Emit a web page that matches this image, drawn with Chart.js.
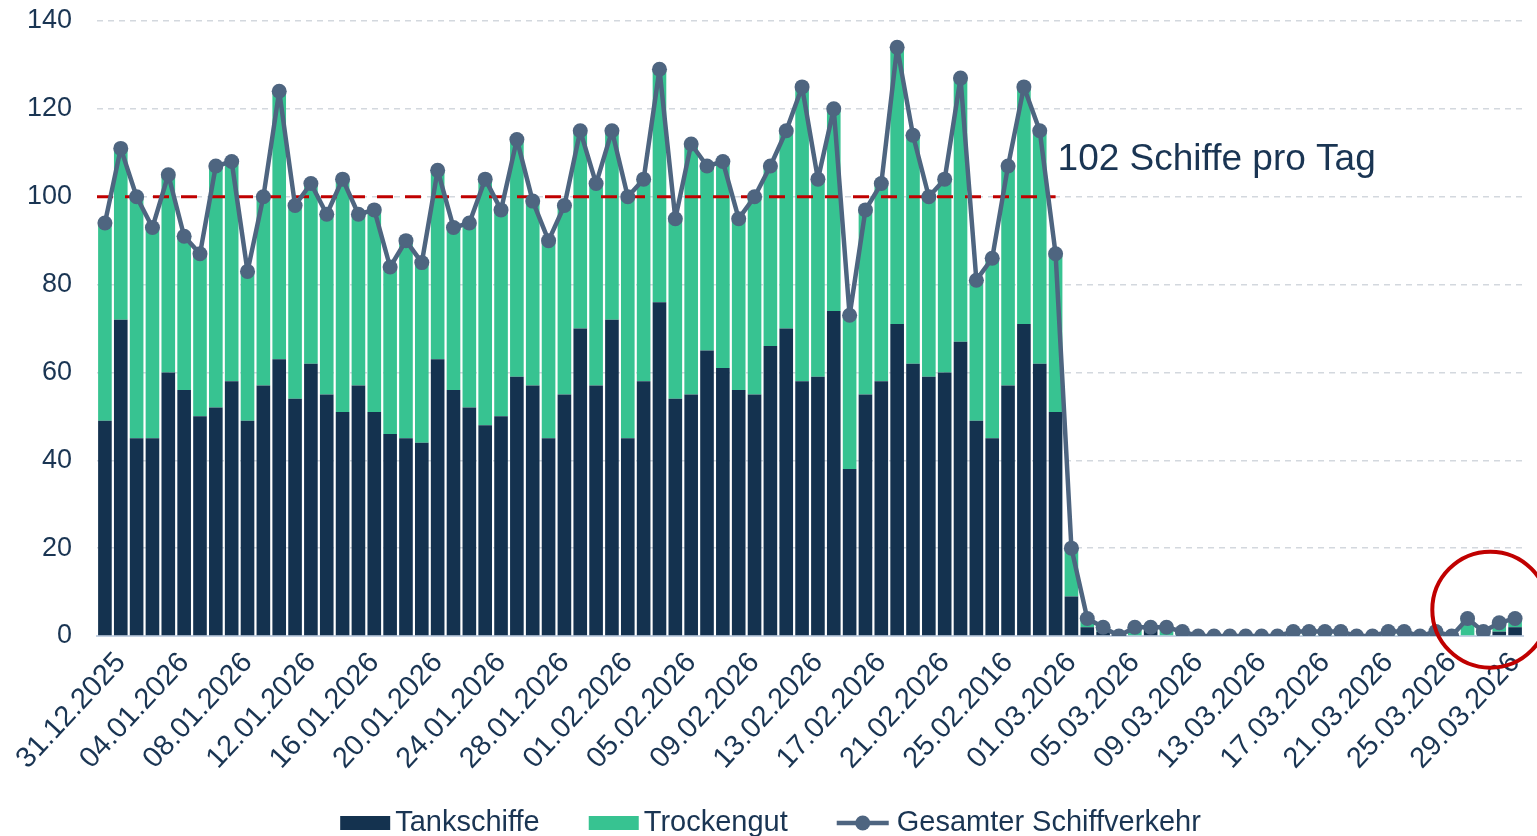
<!DOCTYPE html>
<html>
<head>
<meta charset="utf-8">
<script src="https://cdn.jsdelivr.net/npm/chart.js@4.4.0/dist/chart.umd.min.js"></script>
<style>
  html, body { margin: 0; padding: 0; background: #fff; overflow: hidden; }
  #wrap { width: 1537px; height: 836px; }
</style>
</head>
<body>
<div id="wrap"><canvas id="grafico" width="1537" height="836"></canvas></div>
<script>
// Tage 31.12.2025 - 30.03.2026
const categories = [
  '31.12.2025',
  '01.01.2026','02.01.2026','03.01.2026','04.01.2026','05.01.2026','06.01.2026','07.01.2026','08.01.2026',
  '09.01.2026','10.01.2026','11.01.2026','12.01.2026','13.01.2026','14.01.2026','15.01.2026','16.01.2026',
  '17.01.2026','18.01.2026','19.01.2026','20.01.2026','21.01.2026','22.01.2026','23.01.2026','24.01.2026',
  '25.01.2026','26.01.2026','27.01.2026','28.01.2026','29.01.2026','30.01.2026','31.01.2026',
  '01.02.2026','02.02.2026','03.02.2026','04.02.2026','05.02.2026','06.02.2026','07.02.2026','08.02.2026',
  '09.02.2026','10.02.2026','11.02.2026','12.02.2026','13.02.2026','14.02.2026','15.02.2026','16.02.2026',
  '17.02.2026','18.02.2026','19.02.2026','20.02.2026','21.02.2026','22.02.2026','23.02.2026','24.02.2026',
  '25.02.2026','26.02.2026','27.02.2026','28.02.2026',
  '01.03.2026','02.03.2026','03.03.2026','04.03.2026','05.03.2026','06.03.2026','07.03.2026','08.03.2026',
  '09.03.2026','10.03.2026','11.03.2026','12.03.2026','13.03.2026','14.03.2026','15.03.2026','16.03.2026',
  '17.03.2026','18.03.2026','19.03.2026','20.03.2026','21.03.2026','22.03.2026','23.03.2026','24.03.2026',
  '25.03.2026','26.03.2026','27.03.2026','28.03.2026','29.03.2026','30.03.2026'
];

// jede 4. Beschriftung, wie im Original (inkl. Tippfehler)
const tickLabels = [
  '31.12.2025','04.01.2026','08.01.2026','12.01.2026','16.01.2026','20.01.2026',
  '24.01.2026','28.01.2026','01.02.2026','05.02.2026','09.02.2026','13.02.2026',
  '17.02.2026','21.02.2026','25.02.2016','01.03.2026','05.03.2026','09.03.2026',
  '13.03.2026','17.03.2026','21.03.2026','25.03.2026','29.03.2026'
];

const tankschiffe = [
  49,72,45,45,60,56,50,52,58,49,
  57,63,54,62,55,51,57,51,46,45,
  44,63,56,52,48,50,59,57,45,55,
  70,57,72,45,58,76,54,55,65,61,
  56,55,66,70,58,59,74,38,55,58,
  71,62,59,60,67,49,45,57,71,62,
  51,9,2,1,0,0,2,0,0,0,
  0,0,0,0,0,0,0,0,0,0,
  0,0,0,0,0,0,0,0,1,2
];

const trockengut = [
  45,39,55,48,45,35,37,55,50,34,
  43,61,44,41,41,53,39,46,38,45,
  41,43,37,42,56,47,54,42,45,43,
  45,46,43,55,46,53,41,57,42,47,
  39,45,41,45,67,45,46,35,42,45,
  63,52,41,44,60,32,41,50,54,53,
  36,11,2,1,0,2,0,2,1,0,
  0,0,0,0,0,1,1,1,1,0,
  0,1,1,0,1,0,4,1,2,2
];

const gesamt = [
  94,111,100,93,105,91,87,107,108,83,
  100,124,98,103,96,104,96,97,84,90,
  85,106,93,94,104,97,113,99,90,98,
  115,103,115,100,104,129,95,112,107,108,
  95,100,107,115,125,104,120,73,97,103,
  134,114,100,104,127,81,86,107,125,115,
  87,20,4,2,0,2,2,2,1,0,
  0,0,0,0,0,1,1,1,1,0,
  0,1,1,0,1,0,4,1,3,4
];

const referenzWert = 100;
const referenzText = '102 Schiffe pro Tag';
const referenzBis  = 60;   // Index, bis zu dem die Linie geht

const farbeTank    = '#14324f';
const farbeTrocken = '#37c391';
const farbeLinie   = '#4e6580';
const farbeText    = '#1a3553';
const farbeRot     = '#c00000';
const schrift      = "'Liberation Sans', Arial, sans-serif";

const extras = {
  id: 'extras',
  beforeDatasetDraw(chart, args) {
    if (args.index !== 2) return;
    const {ctx, chartArea, scales: {x, y}} = chart;
    const yy = y.getPixelForValue(referenzWert);
    const x2 = x.getPixelForValue(referenzBis);
    ctx.save();
    ctx.strokeStyle = farbeRot;
    ctx.lineWidth = 3;
    ctx.setLineDash([16, 12]);
    ctx.beginPath();
    ctx.moveTo(chartArea.left, yy);
    ctx.lineTo(x2, yy);
    ctx.stroke();
    ctx.restore();
  },
  afterDraw(chart) {
    const {ctx, scales: {x, y}} = chart;
    const yy = y.getPixelForValue(referenzWert);
    const x2 = x.getPixelForValue(referenzBis);
    ctx.save();
    // Beschriftung der Referenzlinie
    ctx.fillStyle = farbeText;
    ctx.font = '37px ' + schrift;
    ctx.textBaseline = 'alphabetic';
    ctx.fillText(referenzText, x2 + 2, yy - 27);

    // roter Kreis
    const cx = (x.getPixelForValue(87) + x.getPixelForValue(88)) / 2 - 1;
    const cy = y.getPixelForValue(6);
    ctx.strokeStyle = farbeRot;
    ctx.lineWidth = 4;
    ctx.beginPath();
    ctx.arc(cx, cy, 58, 0, Math.PI * 2);
    ctx.stroke();

    // Legende
    ctx.font = '29px ' + schrift;
    ctx.textBaseline = 'middle';
    const items = [
      {text: 'Tankschiffe', typ: 'box', farbe: farbeTank},
      {text: 'Trockengut', typ: 'box', farbe: farbeTrocken},
      {text: 'Gesamter Schiffverkehr', typ: 'linie', farbe: farbeLinie}
    ];
    const breiten = items.map(it => (it.typ === 'box' ? 55 : 60) + ctx.measureText(it.text).width);
    const gesamtBreite = breiten.reduce((a, b) => a + b, 0) + 49 * (items.length - 1);
    let lx = chart.width / 2 + 2 - gesamtBreite / 2;
    const ly = 823;
    items.forEach((it, i) => {
      if (it.typ === 'box') {
        ctx.fillStyle = it.farbe;
        ctx.fillRect(lx, ly - 7, 50, 14);
        ctx.fillStyle = farbeText;
        ctx.fillText(it.text, lx + 55, ly);
      } else {
        ctx.strokeStyle = it.farbe;
        ctx.lineWidth = 4.5;
        ctx.setLineDash([]);
        ctx.beginPath();
        ctx.moveTo(lx, ly);
        ctx.lineTo(lx + 52, ly);
        ctx.stroke();
        ctx.fillStyle = it.farbe;
        ctx.beginPath();
        ctx.arc(lx + 26, ly, 7.5, 0, Math.PI * 2);
        ctx.fill();
        ctx.fillStyle = farbeText;
        ctx.fillText(it.text, lx + 60, ly);
      }
      lx += breiten[i] + 49;
    });
    ctx.restore();
  }
};

const ctx = document.getElementById('grafico');
const chart = new Chart(ctx, {
  type: 'bar',
  data: {
    labels: categories,
    datasets: [
      {
        label: 'Tankschiffe',
        data: tankschiffe,
        backgroundColor: farbeTank,
        stack: 'schiffe',
        order: 2,
        barPercentage: 0.86,
        categoryPercentage: 1
      },
      {
        label: 'Trockengut',
        data: trockengut,
        backgroundColor: farbeTrocken,
        stack: 'schiffe',
        order: 2,
        barPercentage: 0.86,
        categoryPercentage: 1
      },
      {
        type: 'line',
        label: 'Gesamter Schiffverkehr',
        data: gesamt,
        stack: 'gesamt',
        order: 1,
        borderColor: farbeLinie,
        backgroundColor: farbeLinie,
        borderWidth: 4.5,
        borderJoinStyle: 'round',
        borderCapStyle: 'round',
        pointRadius: 7.5,
        pointBorderWidth: 0,
        pointBackgroundColor: farbeLinie,
        tension: 0
      }
    ]
  },
  options: {
    responsive: false,
    animation: false,
    devicePixelRatio: 1,
    layout: { padding: { top: 21, right: 14, left: 0, bottom: 0 } },
    plugins: {
      legend: { display: false },
      tooltip: { enabled: false }
    },
    scales: {
      x: {
        stacked: true,
        grid: { display: false },
        border: { display: true, color: '#c5d2e3', width: 2 },
        ticks: {
          autoSkip: false,
          minRotation: 47,
          maxRotation: 47,
          padding: 2,
          labelOffset: 16,
          color: farbeText,
          font: { size: 29, family: schrift },
          callback: (v, i) => (i % 4 === 0 ? tickLabels[i / 4] : '')
        },
        afterFit: s => { s.height = 200; s.paddingLeft = 0; s.paddingRight = 0; }
      },
      y: {
        stacked: true,
        min: 0,
        max: 140,
        grid: {
          drawTicks: false,
          color: c => (c.tick.value === 0 ? 'rgba(0,0,0,0)' : '#d3d8de'),
          lineWidth: 1.5
        },
        border: { display: false, dash: [6, 5] },
        ticks: {
          stepSize: 20,
          padding: 25,
          color: farbeText,
          font: { size: 27, family: schrift }
        },
        afterFit: s => { s.width = 97; s.paddingTop = 0; s.paddingBottom = 0; }
      }
    }
  },
  plugins: [extras]
});
</script>
</body>
</html>
